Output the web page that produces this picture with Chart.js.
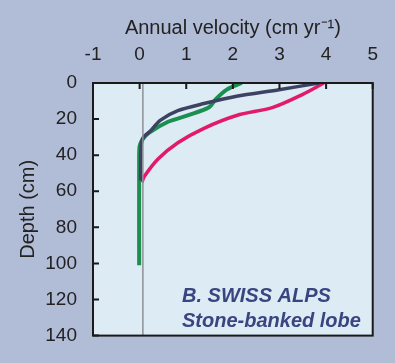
<!DOCTYPE html>
<html lang="en">
<head>
  <meta charset="UTF-8" />
  <title>Swiss Alps stone-banked lobe</title>
  <script src="https://cdn.jsdelivr.net/npm/chart.js"></script>
  <style>
    body {
      margin: 0;
      background-color: #b1bcd7;
    }
    .wrap {
      width: 395px;
      height: 363px;
    }
  </style>
</head>
<body>

<div class="wrap"><canvas id="profile"></canvas></div>

<script>
  // velocity (cm/yr) vs depth (cm)
  const navyVel = [3.85, 2.99, 2.08, 1.38, 0.82, 0.44, 0.22, 0.07, 0.03, 0.02];
  const navyDepth = [0, 3.7, 7.3, 11.4, 15.3, 20.7, 26.9, 30.5, 36, 54];

  const greenVel = [2.19, 1.87, 1.63, 1.49, 1.03, 0.61, 0.19, 0.06, 0.0, -0.01, -0.01];
  const greenDepth = [0, 3.7, 9.1, 13.5, 18, 21.5, 27.8, 31.4, 35, 45, 101];

  const pinkVel = [3.95, 3.49, 2.86, 2.08, 1.38, 0.82, 0.4, 0.1, 0.05];
  const pinkDepth = [0, 6.4, 13.5, 18, 25.1, 33.1, 42, 51.8, 55];

  const zeroVel = [0.07, 0.07];
  const zeroDepth = [0, 140];

  const velTicks = [-1, 0, 1, 2, 3, 4, 5];
  const depthTicks = [0, 20, 40, 60, 80, 100, 120, 140];

  function pts(xs, ys) {
    return xs.map((v, i) => ({ x: v, y: ys[i] }));
  }

  const family = "'Liberation Sans', Arial, sans-serif";
  const tickFont = { family: family, size: 19 };
  const titleFont = { family: family, size: 20 };

  // plot box fill, frame and inward tick marks
  const frame = {
    id: 'frame',
    beforeDatasetsDraw(chart) {
      const { ctx, chartArea: a } = chart;
      ctx.save();
      ctx.fillStyle = '#dcebf4';
      ctx.fillRect(a.left, a.top, a.right - a.left, a.bottom - a.top);
      ctx.restore();
    },
    afterDatasetsDraw(chart) {
      const { ctx, chartArea: a, scales } = chart;
      ctx.save();
      ctx.strokeStyle = '#1a1a1a';
      ctx.lineWidth = 2;
      ctx.beginPath();
      velTicks.forEach(v => {
        const px = scales.x.getPixelForValue(v);
        ctx.moveTo(px, a.top);
        ctx.lineTo(px, a.top + 6);
      });
      depthTicks.forEach(d => {
        const py = scales.y.getPixelForValue(d);
        ctx.moveTo(a.left, py);
        ctx.lineTo(a.left + 6, py);
      });
      ctx.stroke();
      ctx.strokeRect(a.left, a.top, a.right - a.left, a.bottom - a.top);

      ctx.fillStyle = '#3a4580';
      ctx.font = "italic bold 20px " + family;
      ctx.textAlign = 'left';
      ctx.textBaseline = 'alphabetic';
      ctx.fillText('B. SWISS ALPS', a.left + 89, a.top + 219);
      ctx.fillText('Stone-banked lobe', a.left + 89, a.top + 244);
      ctx.restore();
    }
  };

  new Chart(document.getElementById('profile'), {
    type: 'scatter',
    data: {
      datasets: [
        {
          data: pts(zeroVel, zeroDepth),
          showLine: true,
          borderColor: '#8c9096',
          borderWidth: 1.5,
          pointRadius: 0
        },
        {
          data: pts(navyVel, navyDepth),
          showLine: true,
          borderColor: '#3d4263',
          borderWidth: 3.5,
          tension: 0.25,
          pointRadius: 0
        },
        {
          data: pts(greenVel, greenDepth),
          showLine: true,
          borderColor: '#1b8f4f',
          borderWidth: 4,
          tension: 0.3,
          pointRadius: 0
        },
        {
          data: pts(pinkVel, pinkDepth),
          showLine: true,
          borderColor: '#e31a6b',
          borderWidth: 3.5,
          tension: 0.3,
          pointRadius: 0
        }
      ]
    },
    options: {
      responsive: true,
      maintainAspectRatio: false,
      animation: false,
      layout: { padding: { left: 0, top: 0, right: 17, bottom: 18 } },
      plugins: {
        legend: { display: false },
        tooltip: { enabled: false }
      },
      scales: {
        x: {
          type: 'linear',
          position: 'top',
          min: -1,
          max: 5,
          afterFit: s => { s.height = 83; },
          afterBuildTicks: s => { s.ticks = velTicks.map(v => ({ value: v })); },
          grid: { display: false, drawTicks: false },
          border: { display: false },
          ticks: { color: '#222', font: tickFont, padding: 17 },
          title: {
            display: true,
            text: 'Annual velocity (cm yr\u207B\u00B9)',
            color: '#222',
            font: titleFont,
            padding: { top: 16, bottom: 0 }
          }
        },
        y: {
          type: 'linear',
          reverse: true,
          min: 0,
          max: 140,
          afterFit: s => { s.width = 93; },
          afterBuildTicks: s => { s.ticks = depthTicks.map(v => ({ value: v })); },
          grid: { display: false, drawTicks: false },
          border: { display: false },
          ticks: { color: '#222', font: tickFont, padding: 16 },
          title: {
            display: true,
            text: 'Depth (cm)',
            color: '#222',
            font: titleFont,
            padding: { top: 16, bottom: 0 }
          }
        }
      }
    },
    plugins: [frame]
  });
</script>

</body>
</html>
